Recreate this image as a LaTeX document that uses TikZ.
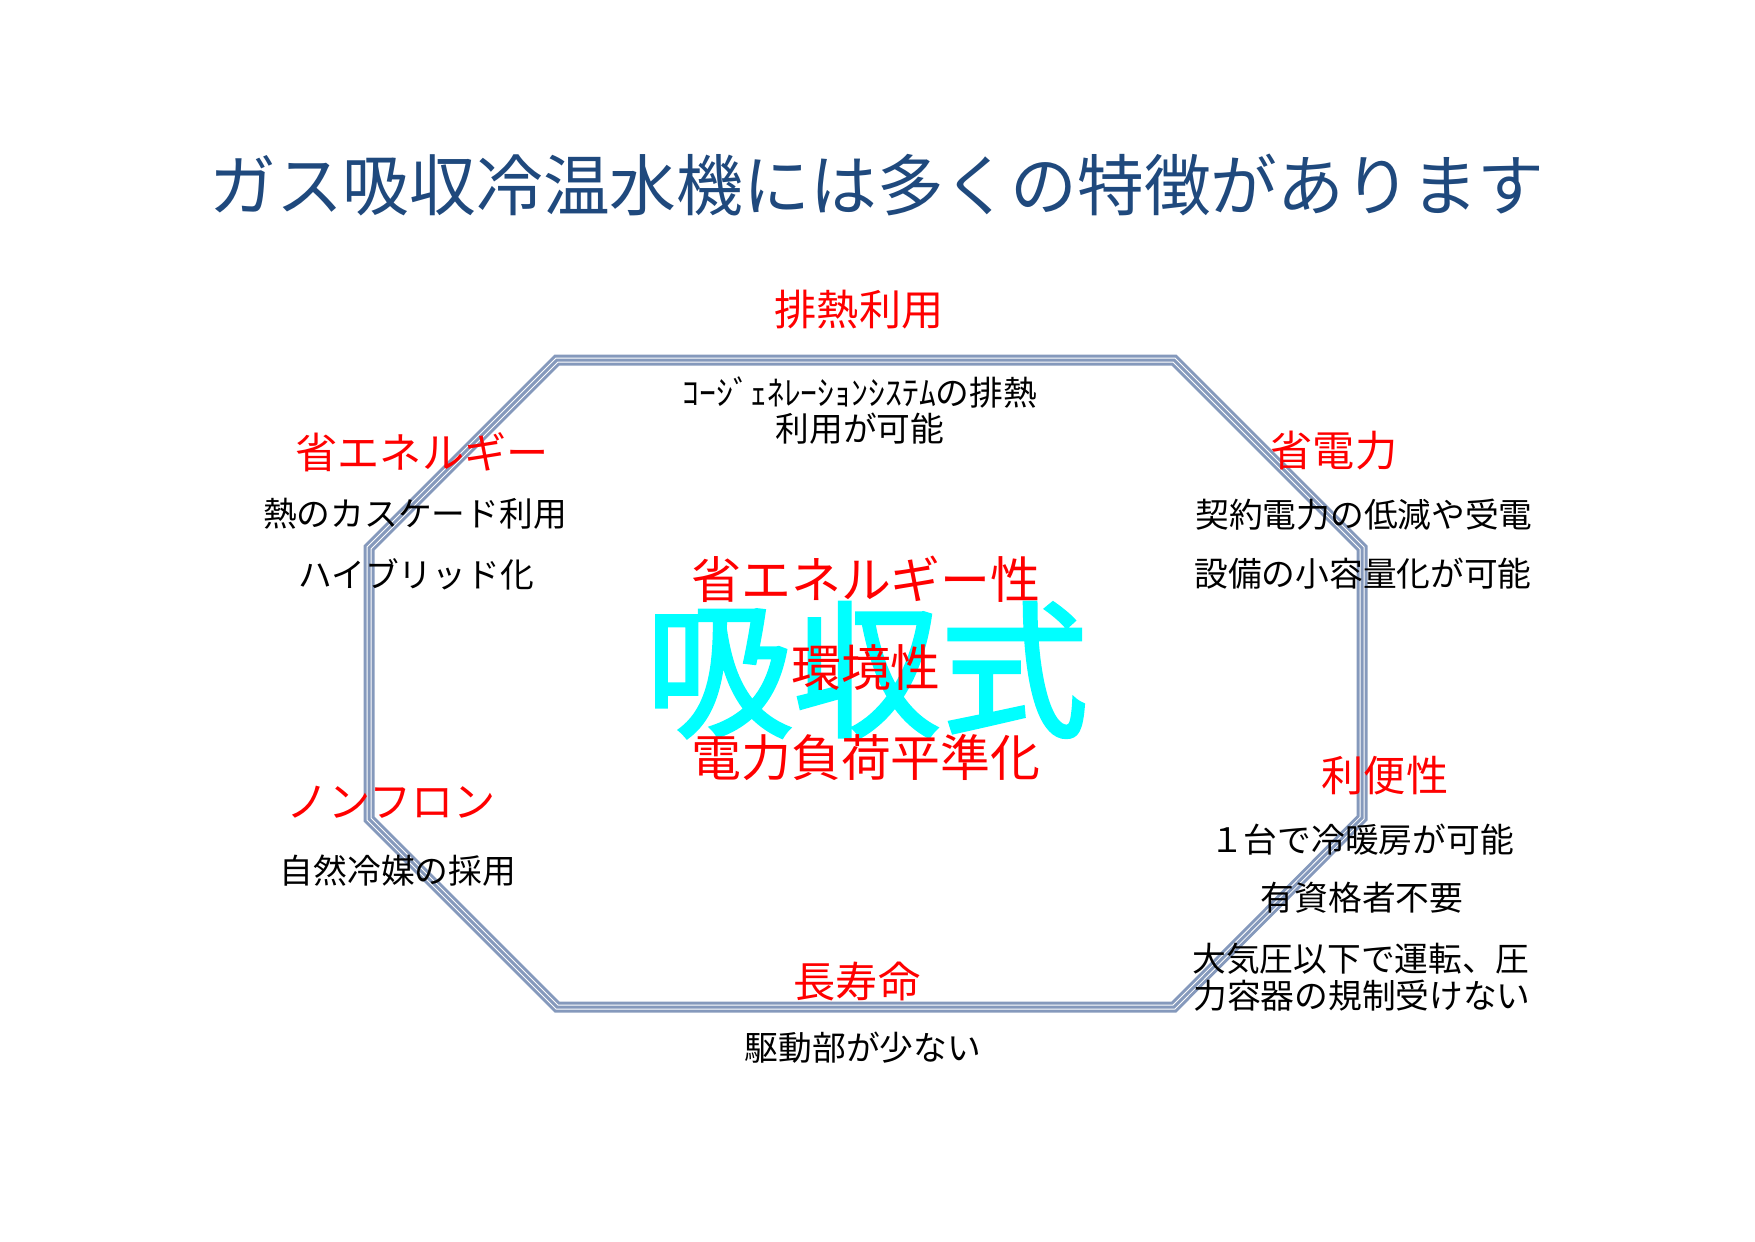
\documentclass[tikz,border=0pt]{standalone}
\usepackage{fontspec}
\setmainfont{Noto Sans CJK JP}
\newfontfamily\kyushufont[FakeBold=2]{Noto Sans CJK JP}
\usetikzlibrary{positioning}
\definecolor{titleblue}{RGB}{31,73,125}
\definecolor{frameblue}{RGB}{133,153,188}
\definecolor{keyred}{RGB}{255,0,0}
\definecolor{keycyan}{RGB}{0,255,255}

\begin{document}
\begin{tikzpicture}[line join=miter,
  headred/.style={text=keyred,font=\fontsize{12}{14}\selectfont,inner sep=0pt},
  bodytxt/.style={text=black,font=\fontsize{9.6}{12}\selectfont,inner sep=0pt},
  corered/.style={text=keyred,font=\fontsize{14.2}{17}\selectfont,inner sep=0pt}]
 \useasboundingbox (0,0) rectangle (17.55,-12.41);
 % frame
 \foreach \w/\c in {0.11/frameblue,0.05/white,0.03/frameblue}
  \draw[\c,line width=\w cm] (5.57,-3.60) -- (11.74,-3.60) -- (13.62,-5.48)
   -- (13.62,-8.18) -- (11.74,-10.07) -- (5.57,-10.07) -- (3.69,-8.19)
   -- (3.69,-5.48) -- cycle;
 \node[text=titleblue,font=\fontsize{19}{23}\selectfont,inner sep=0pt]
  (title) at (8.77,-1.85) {ガス吸収冷温水機には多くの特徴があります};
 % center
 \node[text=keycyan,font=\kyushufont\fontsize{42}{48}\selectfont,inner sep=0pt]
  (kyushu) at (8.67,-6.70) {吸収式};
 \node[corered] (coreEco) at (8.66,-5.79) {省エネルギー性};
 \node[corered] (coreEnv) at (8.66,-6.68) {環境性};
 \node[corered] (coreLoad) at (8.66,-7.57) {電力負荷平準化};
 % top
 \node[headred] (haine) at (8.59,-3.10) {排熱利用};
 \node[bodytxt] (haineA) at (8.60,-3.92) {ｺｰｼﾞｪﾈﾚｰｼｮﾝｼｽﾃﾑの排熱};
 \node[bodytxt] (haineB) at (8.60,-4.29) {利用が可能};
 % left
 \node[headred] (shoene) at (4.22,-4.52) {省エネルギー};
 \node[bodytxt] (shoeneA) at (4.15,-5.14) {熱のカスケード利用};
 \node[bodytxt] (shoeneB) at (4.16,-5.74) {ハイブリッド化};
 \node[headred] (nonfron) at (3.91,-8.02) {ノンフロン};
 \node[bodytxt] (nonfronA) at (3.98,-8.71) {自然冷媒の採用};
 % right
 \node[headred] (shoden) at (13.34,-4.51) {省電力};
 \node[bodytxt] (shodenA) at (13.64,-5.15) {契約電力の低減や受電};
 \node[bodytxt] (shodenB) at (13.63,-5.74) {設備の小容量化が可能};
 \node[headred] (benri) at (13.85,-7.76) {利便性};
 \node[bodytxt] (benriA) at (13.62,-8.40) {１台で冷暖房が可能};
 \node[bodytxt] (benriB) at (13.62,-8.98) {有資格者不要};
 \node[bodytxt] (benriC) at (13.61,-9.59) {大気圧以下で運転、圧};
 \node[bodytxt] (benriD) at (13.62,-9.96) {力容器の規制受けない};
 % bottom
 \node[headred] (choju) at (8.57,-9.81) {長寿命};
 \node[bodytxt] (chojuA) at (8.63,-10.48) {駆動部が少ない};
\end{tikzpicture}
\end{document}
